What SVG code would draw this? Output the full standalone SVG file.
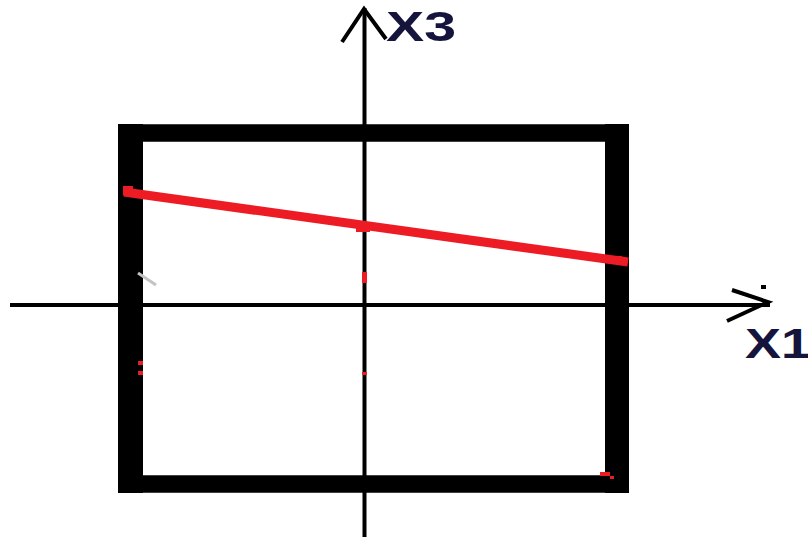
<svg xmlns="http://www.w3.org/2000/svg" width="808" height="537" viewBox="0 0 808 537">
<style>
.ax{stroke:#000;stroke-width:4;fill:none}
.lbl{font-family:"Liberation Sans",Arial,sans-serif;font-weight:bold;font-size:42px;fill:#14143c}
.red{fill:#ed1c24}
</style>
<rect width="808" height="537" fill="#fff"/>
<g id="frame">
<rect x="130.5" y="133" width="486.5" height="351" fill="none" stroke="#000" stroke-width="17.5"/>
<rect x="118" y="124" width="25" height="369" fill="#000"/>
<rect x="605" y="124" width="24" height="369" fill="#000"/>
</g>
<g id="connectors">
<line class="ax" x1="364.5" y1="8" x2="364.5" y2="537"/>
<line class="ax" x1="10" y1="305" x2="770" y2="305"/>
<polyline class="ax" points="342,42 364,9 386,39"/>
<polyline class="ax" points="732,290 768,302 727,321"/>
<rect x="761" y="285" width="5" height="4" fill="#000"/>
</g>
<g id="redline">
<line x1="124" y1="192" x2="628" y2="262" stroke="#ed1c24" stroke-width="9"/>
<rect class="red" x="123" y="186" width="10" height="9"/>
<rect class="red" x="356" y="222" width="14" height="10"/>
<rect class="red" x="612" y="256" width="10" height="8"/>
<rect class="red" x="362" y="272" width="5" height="11"/>
<rect class="red" x="362" y="372" width="5" height="3"/>
<rect class="red" x="138" y="361" width="5" height="4"/>
<rect class="red" x="138" y="371" width="5" height="4"/>
<rect class="red" x="600" y="472" width="10" height="4"/>
<rect class="red" x="610" y="476" width="4" height="3"/>
<line x1="138" y1="273" x2="156" y2="285" stroke="#c3c3c3" stroke-width="3"/>
</g>
<g id="label-x3">
<text class="lbl" x="386" y="41" textLength="70" lengthAdjust="spacingAndGlyphs">X3</text>
</g>
<g id="label-x1">
<text class="lbl" x="745" y="358" textLength="66" lengthAdjust="spacingAndGlyphs">X1</text>
</g>
</svg>
